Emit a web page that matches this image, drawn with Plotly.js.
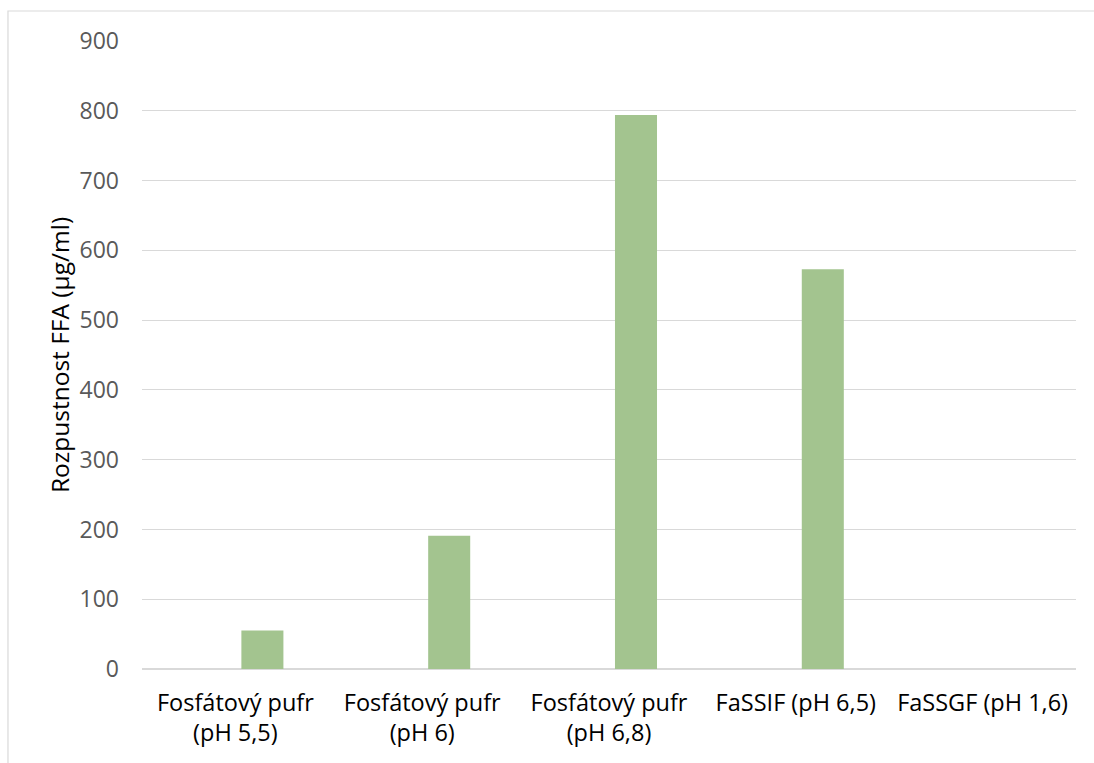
<!DOCTYPE html>
<html>
<head>
<meta charset="utf-8">
<script src="https://cdn.plot.ly/plotly-3.0.1.min.js"></script>
<style>
  html, body { margin: 0; padding: 0; background: #ffffff; }
  #chart { width: 1094px; height: 763px; }
</style>
</head>
<body>
<div id="chart"></div>
<script>
// Solubility of FFA in different media
const categories = [
  'Fosfátový pufr<br>(pH 5,5)',
  'Fosfátový pufr<br>(pH 6)',
  'Fosfátový pufr<br>(pH 6,8)',
  'FaSSIF (pH 6,5)',
  'FaSSGF (pH 1,6)'
];
const solubility = [55, 191, 794, 573, 0];
const yTicks = [0, 100, 200, 300, 400, 500, 600, 700, 800, 900];

const fontFamily = '"Open Sans", "Noto Sans", sans-serif';

const trace = {
  type: 'bar',
  x: categories,
  y: solubility,
  width: 0.225,
  offset: 0.032,
  marker: { color: '#a3c48f', line: { width: 0 } },
  hoverinfo: 'x+y'
};

const layout = {
  width: 1094,
  height: 763,
  margin: { l: 142, r: 18, t: 41, b: 94 },
  paper_bgcolor: '#ffffff',
  plot_bgcolor: '#ffffff',
  showlegend: false,
  font: { family: fontFamily, size: 23.5, color: '#000000' },
  xaxis: {
    type: 'category',
    range: [-0.5, 4.5],
    showgrid: false,
    showline: false,
    zeroline: false,
    ticks: '',
    ticklabelstandoff: 17,
    tickfont: { family: fontFamily, size: 23.5, color: '#000000' }
  },
  yaxis: {
    range: [0, 900],
    tickvals: yTicks,
    ticktext: yTicks.map(String),
    showgrid: true,
    gridcolor: '#d9d9d9',
    gridwidth: 1.2,
    zeroline: true,
    zerolinecolor: '#d9d9d9',
    zerolinewidth: 1.2,
    showline: false,
    ticks: '',
    ticklabelstandoff: 22,
    tickfont: { family: fontFamily, size: 23, color: '#595959' },
    title: {
      text: 'Rozpustnost FFA (µg/ml)',
      font: { family: fontFamily, size: 24.5, color: '#000000' },
      standoff: 2
    }
  },
  shapes: [{
    type: 'rect',
    xref: 'paper', yref: 'paper',
    x0: -0.1435, x1: 1.2,
    y0: -0.3, y1: 1.0478,
    line: { color: '#d9d9d9', width: 1.2 },
    fillcolor: 'rgba(0,0,0,0)',
    layer: 'below'
  }]
};

Plotly.newPlot('chart', [trace], layout, { displayModeBar: false, staticPlot: true });
</script>
</body>
</html>
